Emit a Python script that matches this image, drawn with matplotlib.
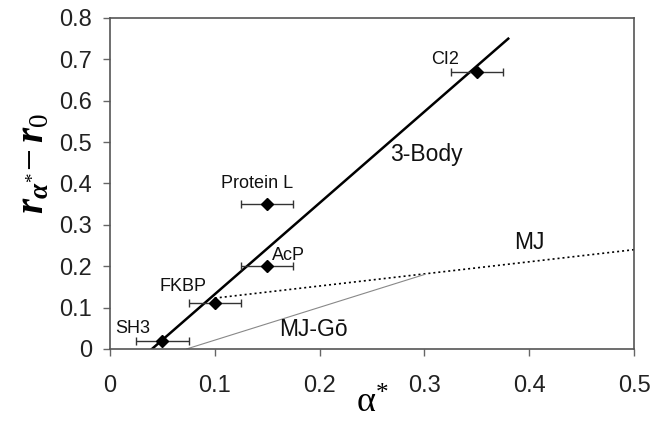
import numpy as np
import matplotlib
matplotlib.use("Agg")
import matplotlib.pyplot as plt

plt.rcParams['font.family'] = ['Liberation Sans', 'DejaVu Sans']
plt.rcParams['mathtext.fontset'] = 'custom'
plt.rcParams['mathtext.rm'] = 'Liberation Serif'
plt.rcParams['mathtext.it'] = 'Liberation Serif:italic:bold'
plt.rcParams['mathtext.bf'] = 'Liberation Serif:bold'

# proteins: alpha*, r - r0, horizontal error
proteins = ["SH3", "FKBP", "AcP", "Protein L", "CI2"]
alpha = [0.05, 0.10, 0.15, 0.15, 0.35]
r_diff = [0.02, 0.11, 0.20, 0.35, 0.67]
alpha_err = [0.025, 0.025, 0.025, 0.025, 0.025]
label_xy = [(0.022, 0.05), (0.07, 0.15), (0.17, 0.227), (0.14, 0.40), (0.32, 0.70)]

# model curves
body3_x = [0.04, 0.38]
body3_y = [0.0, 0.75]
mj_x = [0.10, 0.50]
mj_y = [0.123, 0.24]
mjgo_x = [0.073, 0.30]
mjgo_y = [0.0, 0.18]

fig = plt.figure(figsize=(6.52, 4.24), dpi=100)
ax = fig.add_axes([0.1687, 0.1769, 0.8037, 0.7807])

ax.plot(body3_x, body3_y, color='black', lw=1.8, zorder=2)
ax.plot(mj_x, mj_y, color='black', lw=1.2, ls=(0, (1.2, 1.8)), zorder=2)
ax.plot(mjgo_x, mjgo_y, color='#888888', lw=0.8, zorder=2)

ax.errorbar(alpha, r_diff, xerr=alpha_err, fmt='D', color='black',
            ms=6, ecolor='#333333', elinewidth=1.0, capsize=3, capthick=1.0, zorder=3)

for name, (tx, ty) in zip(proteins, label_xy):
    ax.text(tx, ty, name, fontsize=13, ha='center', va='center', color='#111111')

ax.text(0.302, 0.469, "3-Body", fontsize=16.5, ha='center', va='center', color='#111111')
ax.text(0.40, 0.258, "MJ", fontsize=16.5, ha='center', va='center', color='#111111')
ax.text(0.194, 0.046, "MJ-Gō", fontsize=16.5, ha='center', va='center', color='#111111')

ax.set_xlim(0, 0.5)
ax.set_ylim(0, 0.8)
ax.set_xticks([0, 0.1, 0.2, 0.3, 0.4, 0.5])
ax.set_xticklabels(["0", "0.1", "0.2", "0.3", "0.4", "0.5"])
ax.set_yticks(np.arange(0, 0.81, 0.1))
ax.set_yticklabels(["0", "0.1", "0.2", "0.3", "0.4", "0.5", "0.6", "0.7", "0.8"])
ax.tick_params(labelsize=17, length=5, width=1, color='#666666', labelcolor='#222222')
ax.tick_params(axis='x', pad=14)
ax.tick_params(axis='y', pad=8)
for s in ax.spines.values():
    s.set_color('#555555')
    s.set_linewidth(1.2)

ax.set_xlabel(r"$\mathrm{\alpha}^{*}$", fontsize=26)
ax.xaxis.set_label_coords(0.5, -0.112)
ax.set_ylabel(r"$r_{\alpha^{*}}\!-r_{\mathit{0}}$", fontsize=28)
ax.yaxis.set_label_coords(-0.112, 0.56)

fig.savefig("out.png", dpi=100)
